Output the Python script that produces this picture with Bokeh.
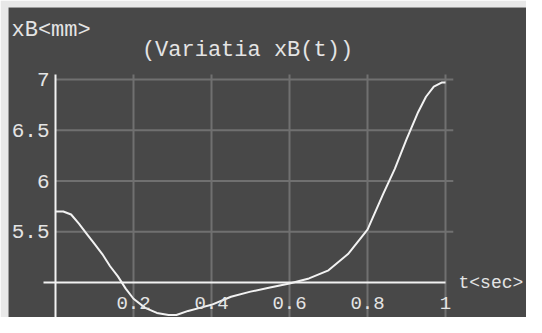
from bokeh.plotting import figure
from bokeh.models import ColumnDataSource, Label, Range1d
from bokeh.embed import file_html
from bokeh.resources import INLINE
from bokeh.core.properties import value

# ---- data ----
t = [0.00, 0.02, 0.04, 0.06, 0.08, 0.10, 0.12, 0.14, 0.16, 0.18, 0.20, 0.23,
     0.26, 0.29, 0.31, 0.34, 0.37, 0.40, 0.45, 0.50, 0.55, 0.60, 0.65, 0.70,
     0.75, 0.80, 0.84, 0.87, 0.90, 0.93, 0.95, 0.97, 0.99, 1.00]
xB = [5.70, 5.70, 5.67, 5.58, 5.48, 5.38, 5.28, 5.16, 5.06, 4.94, 4.84, 4.75,
      4.70, 4.68, 4.68, 4.72, 4.75, 4.78, 4.86, 4.91, 4.95, 4.99, 5.04, 5.12,
      5.28, 5.52, 5.87, 6.12, 6.41, 6.68, 6.83, 6.93, 6.97, 6.97]

x_ticks = [0.2, 0.4, 0.6, 0.8, 1.0]
x_tick_labels = ["0.2", "0.4", "0.6", "0.8", "1"]
y_ticks = [5.5, 6.0, 6.5, 7.0]
y_tick_labels = ["5.5", "6", "6.5", "7"]

title_text = "(Variatia xB(t))"
y_label = "xB<mm>"
x_label = "t<sec>"

BG = "#484848"
EDGE = "#e8e8e8"
FG = "#f2f2f2"
GRID = "#707070"
TXT = "#e4e4e4"
FONT = value("Liberation Mono")

W, H = 526, 317
LEFT, TOP = 8, 7
# pixel mapping of the picture: px = 55 + 390 t ; py = 282 - 101.5 (v - 5)
PX0, PXU = 55.0, 390.0
PY5, PYU = 282.0, 101.5


def t_at(px):
    return (px - PX0) / PXU


def v_at(py):
    return 5.0 + (PY5 - py) / PYU


p = figure(width=W, height=H, output_backend="svg", toolbar_location=None,
           x_range=Range1d(t_at(LEFT), t_at(W)), y_range=Range1d(v_at(H), v_at(TOP)),
           min_border=0, min_border_left=LEFT, min_border_right=0,
           min_border_top=TOP, min_border_bottom=0)
p.axis.visible = False
p.grid.visible = False
p.outline_line_color = None
p.background_fill_color = BG
p.border_fill_color = EDGE

ybot = p.y_range.start
ytop = max(y_ticks) + 0.05
xright_grid = max(x_ticks) + 0.02

# grid
p.segment(x0=x_ticks, y0=[ybot] * len(x_ticks), x1=x_ticks, y1=[ytop] * len(x_ticks),
          line_color=GRID, line_width=2)
p.segment(x0=[0] * len(y_ticks), y0=y_ticks, x1=[xright_grid] * len(y_ticks), y1=y_ticks,
          line_color=GRID, line_width=2)

# axes
p.segment(x0=[0], y0=[ybot], x1=[0], y1=[ytop], line_color=FG, line_width=2)
p.segment(x0=[t_at(43)], y0=[5.0], x1=[max(x_ticks)], y1=[5.0], line_color=FG, line_width=2)

# curve
src = ColumnDataSource(dict(t=t, xB=xB))
p.line("t", "xB", source=src, line_color=FG, line_width=2)

# tick labels
p.text(x=x_ticks, y=[5.0] * len(x_ticks), text=x_tick_labels, y_offset=20,
       text_align="center", text_baseline="middle", text_color=TXT,
       text_font=FONT, text_font_size="19px")
p.text(x=[0] * len(y_ticks), y=y_ticks, text=y_tick_labels, x_offset=-6,
       text_align="right", text_baseline="middle", text_color=TXT,
       text_font=FONT, text_font_size="21px")

# title and axis labels
p.add_layout(Label(x=t_at(247), y=v_at(50), text=title_text,
                   text_align="center", text_baseline="middle", text_color=TXT,
                   text_font="Liberation Mono", text_font_size="22px"))
p.add_layout(Label(x=t_at(11), y=v_at(30), text=y_label,
                   text_align="left", text_baseline="middle", text_color=TXT,
                   text_font="Liberation Mono", text_font_size="22px"))
p.add_layout(Label(x=t_at(458), y=5.0, text=x_label,
                   text_align="left", text_baseline="middle", text_color=TXT,
                   text_font="Liberation Mono", text_font_size="18px"))

open("out.html", "w").write(file_html(p, INLINE))
